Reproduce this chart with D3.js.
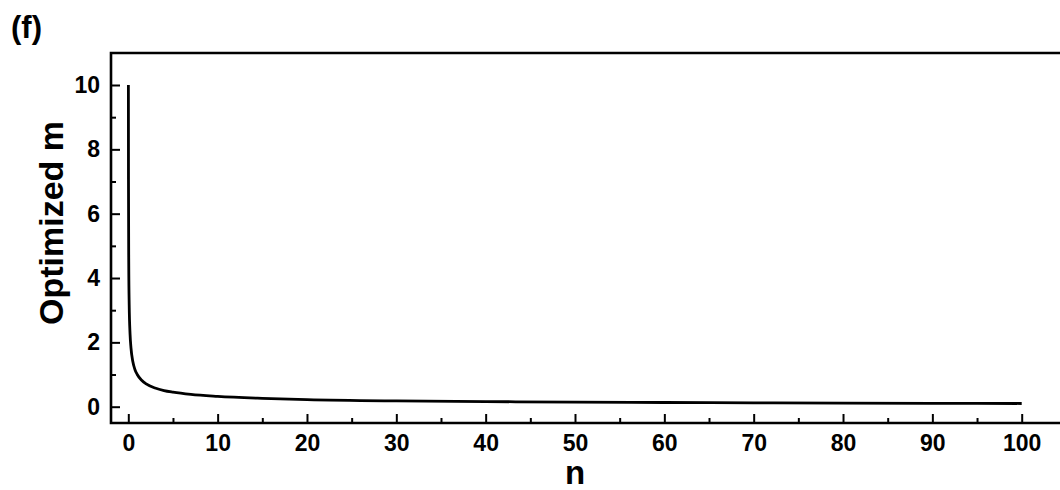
<!DOCTYPE html>
<html>
<head>
<meta charset="utf-8">
<script src="https://cdn.jsdelivr.net/npm/d3@7"></script>
<style>
  body { margin: 0; background: #fff; }
  text { font-family: "Liberation Sans", Arial, sans-serif; font-weight: bold; fill: #000; }
</style>
</head>
<body>
<div id="chart"></div>
<script>
// values
var nValues = [0.01, 0.02, 0.05, 0.1, 0.2, 0.3, 0.5, 0.75, 1, 1.5, 2, 3, 4, 5, 7, 10, 15, 20, 30, 40, 50, 60, 70, 80, 90, 100]
var mValues = [10, 7.07, 4.47, 3.16, 2.24, 1.83, 1.41, 1.15, 1, 0.82, 0.71, 0.58, 0.5, 0.45, 0.38, 0.32, 0.26, 0.22, 0.18, 0.16, 0.14, 0.13, 0.12, 0.11, 0.105, 0.1]
var xTicks = [0, 10, 20, 30, 40, 50, 60, 70, 80, 90, 100]
var xMinor = [5, 15, 25, 35, 45, 55, 65, 75, 85, 95]
var yTicks = [0, 2, 4, 6, 8, 10]
var yMinor = [1, 3, 5, 7, 9]

var width = 1060, height = 490
var plotLeft = 111, plotTop = 53, plotBottom = 423, plotRight = 1064

var svg = d3.select("#chart").append("svg")
    .attr("width", width)
    .attr("height", height)

var x = d3.scaleLinear().domain([0, 100]).range([128.3, 1021.7])
var y = d3.scaleLinear().domain([0, 10]).range([406.7, 85])

var data = nValues.map(function(n, i){ return {n: n, m: mValues[i]} })

function styleTicks(g){
    g.select(".domain").remove()
    g.selectAll("line").attr("stroke", "#000").attr("stroke-width", 2)
    g.selectAll("text").style("font-size", "23px")
}

// major + minor ticks, pointing inward
svg.append("g")
    .attr("transform", "translate(0," + plotBottom + ")")
    .call(d3.axisBottom(x).tickValues(xTicks).tickSize(-9).tickPadding(12).tickFormat(d3.format("d")))
    .call(styleTicks)

svg.append("g")
    .attr("transform", "translate(0," + plotBottom + ")")
    .call(d3.axisBottom(x).tickValues(xMinor).tickSize(-5).tickFormat(""))
    .call(styleTicks)

svg.append("g")
    .attr("transform", "translate(" + plotLeft + ",0)")
    .call(d3.axisLeft(y).tickValues(yTicks).tickSize(-9).tickPadding(11).tickFormat(d3.format("d")))
    .call(styleTicks)

svg.append("g")
    .attr("transform", "translate(" + plotLeft + ",0)")
    .call(d3.axisLeft(y).tickValues(yMinor).tickSize(-5).tickFormat(""))
    .call(styleTicks)

// frame (right side runs off the picture)
svg.append("path")
    .attr("d", "M" + plotRight + "," + plotTop + "H" + plotLeft + "V" + plotBottom + "H" + plotRight)
    .attr("fill", "none")
    .attr("stroke", "#000")
    .attr("stroke-width", 2.6)

// curve
var line = d3.line()
    .x(function(d){ return x(d.n) })
    .y(function(d){ return y(d.m) })
    .curve(d3.curveMonotoneX)

svg.append("path")
    .datum(data)
    .attr("d", line)
    .attr("fill", "none")
    .attr("stroke", "#000")
    .attr("stroke-width", 2.8)

// labels
svg.append("text")
    .attr("x", 575)
    .attr("y", 484)
    .attr("text-anchor", "middle")
    .style("font-size", "33px")
    .text("n")

svg.append("text")
    .attr("transform", "translate(63,223) rotate(-90)")
    .attr("text-anchor", "middle")
    .style("font-size", "34px")
    .text("Optimized m")

svg.append("text")
    .attr("x", 11)
    .attr("y", 38)
    .style("font-size", "31px")
    .text("(f)")
</script>
</body>
</html>
